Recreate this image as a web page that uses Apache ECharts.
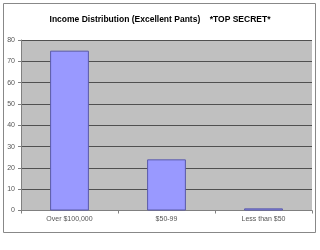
<!DOCTYPE html>
<html><head><meta charset="utf-8">
<script src="https://cdn.jsdelivr.net/npm/echarts@6/dist/echarts.min.js"></script>
<style>html,body{margin:0;padding:0;background:#fff}#c{width:320px;height:250px}</style>
</head><body><div id="c"></div>
<script>
var categories = ["Over $100,000", "$50-99", "Less than $50"];
var values = [75, 24, 1];
var yTicks = [0, 10, 20, 30, 40, 50, 60, 70, 80];

var chart = echarts.init(document.getElementById('c'), null, {renderer: 'canvas'});
chart.setOption({
  animation: false,
  backgroundColor: '#fff',
  title: {
    text: 'Income Distribution (Excellent Pants)    *TOP SECRET*',
    left: 'center', top: 10,
    textStyle: {fontFamily: 'Liberation Sans', fontSize: 8.5, fontWeight: 'bold', color: '#000'}
  },
  graphic: [{
    type: 'rect', shape: {x: 3.5, y: 3.5, width: 312, height: 229},
    style: {fill: 'none', stroke: '#888', lineWidth: 1}, silent: true, z: -1
  }],
  grid: {left: 21, right: 8, top: 40, bottom: 39.5, containLabel: false,
    show: true, backgroundColor: '#c0c0c0', borderColor: '#808080', borderWidth: 0},
  xAxis: {
    type: 'category', data: categories, boundaryGap: true,
    axisLine: {lineStyle: {color: '#808080'}},
    axisTick: {show: true, length: 3, lineStyle: {color: '#808080'}},
    axisLabel: {fontFamily: 'Liberation Sans', fontSize: 7, color: '#555', margin: 5}
  },
  yAxis: {
    type: 'value', min: yTicks[0], max: yTicks[yTicks.length - 1], interval: 10,
    axisLine: {show: true, lineStyle: {color: '#808080'}},
    axisTick: {show: true, length: 3, lineStyle: {color: '#808080'}},
    splitLine: {lineStyle: {color: '#505050', width: 1}},
    axisLabel: {fontFamily: 'Liberation Sans', fontSize: 7, color: '#555', margin: 6}
  },
  series: [{
    type: 'bar', data: values, barWidth: '40%',
    itemStyle: {color: '#9999ff', borderColor: '#5a5aa8', borderWidth: 1}
  }]
});
</script></body></html>
